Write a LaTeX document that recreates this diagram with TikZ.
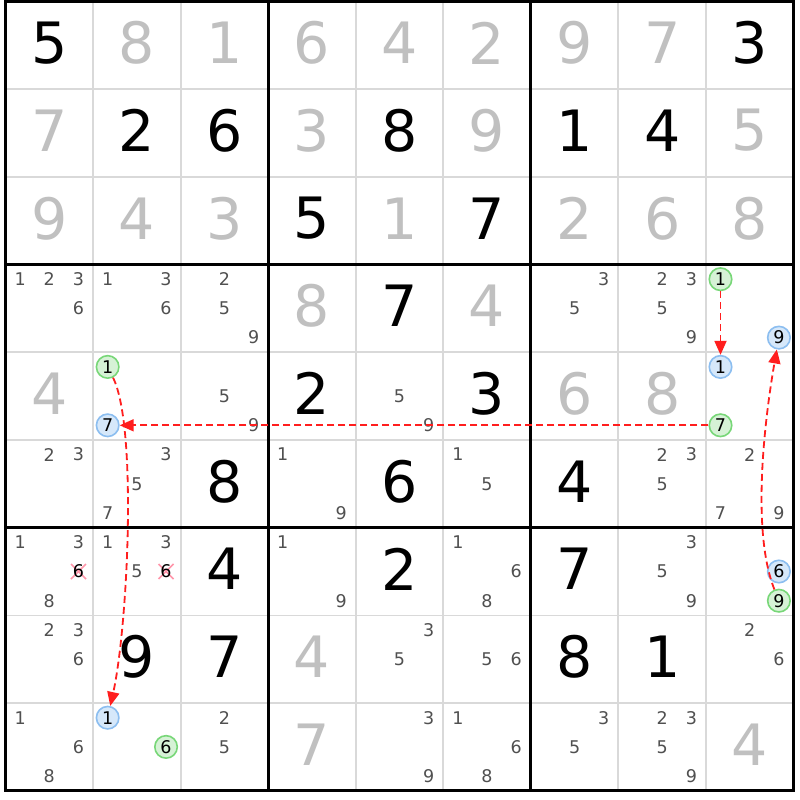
\documentclass[tikz,border=0pt]{standalone}
\usepackage{fontspec}
\setmainfont{DejaVu Sans}
\usetikzlibrary{arrows.meta}
\definecolor{given}{RGB}{192,192,192}
\definecolor{candc}{RGB}{80,80,80}
\definecolor{thinc}{RGB}{217,217,217}
\definecolor{gfill}{RGB}{214,242,214}
\definecolor{gdraw}{RGB}{120,215,120}
\definecolor{bfill}{RGB}{214,232,250}
\definecolor{bdraw}{RGB}{140,190,240}
\definecolor{arrred}{RGB}{255,30,30}
\definecolor{crossc}{RGB}{255,150,170}
\newcommand\Xo{5.5}
\newcommand\Yo{1.5}
\newcommand\Wc{87.55}
\newcommand\Hc{87.7}
\newcommand\bigd[4]{\node[bigdig,text=#4] (b#1#2) at ({\Xo+(#2-0.5)*\Wc},{\Yo+(#1-0.5)*\Hc-2.5}) {#3};}
\newcommand\candat[5]{\node[#4] (k#1#2#3) at ({\Xo+(#2-1)*\Wc+14.6+mod(#3-1,3)*29.2},{\Yo+(#1-1)*\Hc+14.6+floor((#3-1)/3)*29.2}) {#5};}
\newcommand\cands[3]{\foreach \k in {#3}{\candat{#1}{#2}{\k}{canddig}{\k}}}
\newcommand\gc[3]{\candat{#1}{#2}{#3}{gcirc}{#3}}
\newcommand\bc[3]{\candat{#1}{#2}{#3}{bcirc}{#3}}
\newcommand\xc[3]{\candat{#1}{#2}{#3}{canddig}{}%
  \draw[crossx] ([shift={(-7.5,-7.5)}]k#1#2#3.center) -- ([shift={(7.5,7.5)}]k#1#2#3.center);
  \draw[crossx] ([shift={(-7.5,7.5)}]k#1#2#3.center) -- ([shift={(7.5,-7.5)}]k#1#2#3.center);
  \node[canddig,text=black] at (k#1#2#3.center) {#3};}
\begin{document}
\begin{tikzpicture}[x=1pt,y=-1pt,
  bigdig/.style={inner sep=0pt,font=\fontsize{57}{60}\selectfont},
  canddig/.style={inner sep=0pt,text=candc,font=\fontsize{17.5}{20}\selectfont},
  gcirc/.style={circle,inner sep=0pt,minimum size=22.5pt,draw=gdraw,fill=gfill,line width=1.6pt,text=black,font=\fontsize{17.5}{20}\selectfont},
  bcirc/.style={circle,inner sep=0pt,minimum size=22.5pt,draw=bdraw,fill=bfill,line width=1.6pt,text=black,font=\fontsize{17.5}{20}\selectfont},
  thinline/.style={draw=thinc,line width=1.8pt},
  thickline/.style={draw=black,line width=3pt},
  crossx/.style={draw=crossc,line width=1.6pt},
  arr/.style={draw=arrred,line width=1.8pt,dash pattern=on 7pt off 4pt,-{Triangle[length=14pt,width=12pt]}}]
\useasboundingbox (0,0) rectangle (800,800);
\fill[white] (0,0) rectangle (800,800);
% thin lines
\foreach \i in {1,2,4,5,7,8}{
  \draw[thinline] ({\Xo+\i*\Wc},\Yo) -- ({\Xo+\i*\Wc},{\Yo+9*\Hc});
  \draw[thinline] (\Xo,{\Yo+\i*\Hc}) -- ({\Xo+9*\Wc},{\Yo+\i*\Hc});
}
\foreach \i in {3,6}{
  \draw[thickline] ({\Xo+\i*\Wc},\Yo) -- ({\Xo+\i*\Wc},{\Yo+9*\Hc});
  \draw[thickline] (\Xo,{\Yo+\i*\Hc}) -- ({\Xo+9*\Wc},{\Yo+\i*\Hc});
}
\draw[thickline] (\Xo,\Yo) rectangle ({\Xo+9*\Wc},{\Yo+9*\Hc});
% big digits
\bigd{1}{1}{5}{black}\bigd{1}{2}{8}{given}\bigd{1}{3}{1}{given}
\bigd{1}{4}{6}{given}\bigd{1}{5}{4}{given}\bigd{1}{6}{2}{given}
\bigd{1}{7}{9}{given}\bigd{1}{8}{7}{given}\bigd{1}{9}{3}{black}
\bigd{2}{1}{7}{given}\bigd{2}{2}{2}{black}\bigd{2}{3}{6}{black}
\bigd{2}{4}{3}{given}\bigd{2}{5}{8}{black}\bigd{2}{6}{9}{given}
\bigd{2}{7}{1}{black}\bigd{2}{8}{4}{black}\bigd{2}{9}{5}{given}
\bigd{3}{1}{9}{given}\bigd{3}{2}{4}{given}\bigd{3}{3}{3}{given}
\bigd{3}{4}{5}{black}\bigd{3}{5}{1}{given}\bigd{3}{6}{7}{black}
\bigd{3}{7}{2}{given}\bigd{3}{8}{6}{given}\bigd{3}{9}{8}{given}
\bigd{4}{4}{8}{given}\bigd{4}{5}{7}{black}\bigd{4}{6}{4}{given}
\bigd{5}{1}{4}{given}\bigd{5}{4}{2}{black}\bigd{5}{6}{3}{black}
\bigd{5}{7}{6}{given}\bigd{5}{8}{8}{given}
\bigd{6}{3}{8}{black}\bigd{6}{5}{6}{black}\bigd{6}{7}{4}{black}
\bigd{7}{3}{4}{black}\bigd{7}{5}{2}{black}\bigd{7}{7}{7}{black}
\bigd{8}{2}{9}{black}\bigd{8}{3}{7}{black}\bigd{8}{4}{4}{given}
\bigd{8}{7}{8}{black}\bigd{8}{8}{1}{black}
\bigd{9}{4}{7}{given}\bigd{9}{9}{4}{given}
% candidates
\cands{4}{1}{1,2,3,6}\cands{4}{2}{1,3,6}\cands{4}{3}{2,5,9}
\cands{4}{7}{3,5}\cands{4}{8}{2,3,5,9}\gc{4}{9}{1}\bc{4}{9}{9}
\gc{5}{2}{1}\bc{5}{2}{7}\cands{5}{3}{5,9}\cands{5}{5}{5,9}
\bc{5}{9}{1}\gc{5}{9}{7}
\cands{6}{1}{2,3}\cands{6}{2}{3,5,7}\cands{6}{4}{1,9}\cands{6}{6}{1,5}
\cands{6}{8}{2,3,5}\cands{6}{9}{2,7,9}
\cands{7}{1}{1,3,8}\xc{7}{1}{6}\cands{7}{2}{1,3,5}\xc{7}{2}{6}
\cands{7}{4}{1,9}\cands{7}{6}{1,6,8}\cands{7}{8}{3,5,9}
\bc{7}{9}{6}\gc{7}{9}{9}
\cands{8}{1}{2,3,6}\cands{8}{5}{3,5}\cands{8}{6}{5,6}\cands{8}{9}{2,6}
\cands{9}{1}{1,6,8}\bc{9}{2}{1}\gc{9}{2}{6}\cands{9}{3}{2,5}
\cands{9}{5}{3,9}\cands{9}{6}{1,6,8}\cands{9}{7}{3,5}\cands{9}{8}{2,3,5,9}
% links
\draw[arr] (k491) -- (k591);
\draw[arr] (k597) -- (k527);
\draw[arr] (k521) .. controls +(30,60) and +(20,-90) .. (k921);
\draw[arr] (k799) .. controls +(-28,-70) and +(-14,80) .. (k499);
\end{tikzpicture}
\end{document}
